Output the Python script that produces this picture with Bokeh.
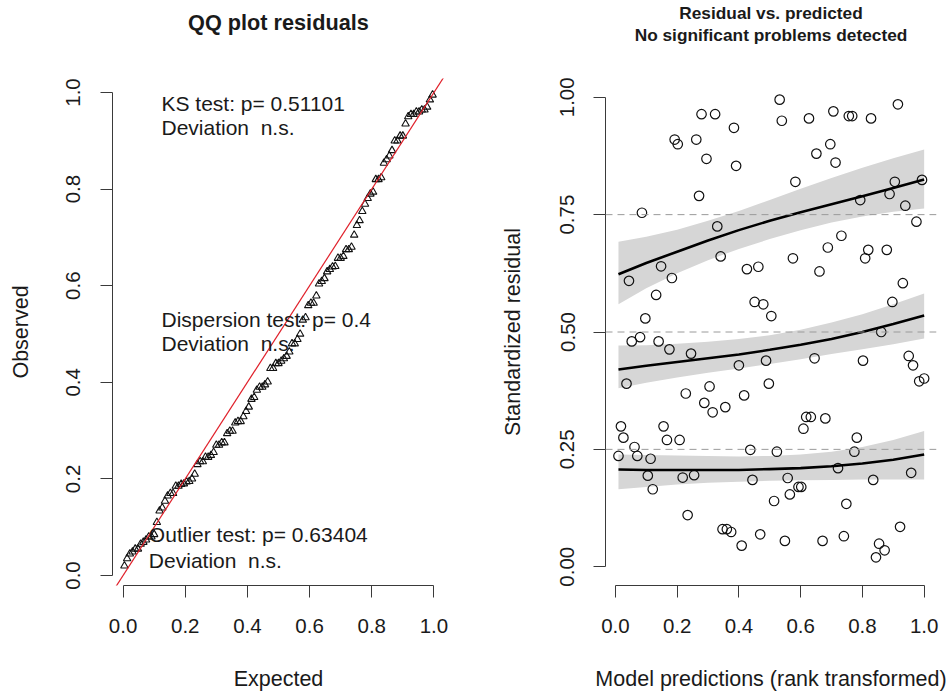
from bokeh.plotting import figure
from bokeh.layouts import row, column
from bokeh.models import FixedTicker, PrintfTickFormatter, Span
from bokeh.core.properties import value
from bokeh.embed import file_html
from bokeh.resources import INLINE

# Rank-transformed model predictions and scaled (simulated) residuals
pred_rank = [0.532, 0.279, 0.323, 0.539, 0.627, 0.706, 0.756, 0.767, 0.828, 0.915,
             0.384, 0.192, 0.202, 0.262, 0.696, 0.651, 0.295, 0.391, 0.713, 0.583,
             0.271, 0.905, 0.993, 0.888, 0.793, 0.939, 0.086, 0.975, 0.330, 0.732,
             0.688, 0.819, 0.879, 0.341, 0.575, 0.809, 0.148, 0.044, 0.183, 0.426,
             0.463, 0.661, 0.132, 0.931, 0.451, 0.479, 0.505, 0.897, 0.097, 0.053,
             0.080, 0.140, 0.175, 0.245, 0.861, 0.400, 0.488, 0.645, 0.802, 0.950,
             0.964, 0.984, 1.000, 0.036, 0.228, 0.305, 0.497, 0.417, 0.288, 0.315,
             0.356, 0.618, 0.633, 0.680, 0.609, 0.018, 0.026, 0.156, 0.167, 0.208,
             0.062, 0.071, 0.010, 0.114, 0.105, 0.121, 0.218, 0.255, 0.437, 0.523,
             0.782, 0.774, 0.721, 0.444, 0.558, 0.593, 0.602, 0.565, 0.514, 0.835,
             0.958, 0.748, 0.234, 0.347, 0.361, 0.375, 0.469, 0.409, 0.549, 0.671,
             0.740, 0.922, 0.854, 0.872, 0.844]
resid = [0.995, 0.964, 0.964, 0.950, 0.955, 0.970, 0.960, 0.960, 0.955, 0.985,
         0.935, 0.910, 0.900, 0.910, 0.900, 0.880, 0.869, 0.854, 0.861, 0.820,
         0.790, 0.820, 0.824, 0.794, 0.781, 0.769, 0.754, 0.735, 0.725, 0.705,
         0.680, 0.675, 0.675, 0.661, 0.657, 0.657, 0.640, 0.609, 0.615, 0.634,
         0.639, 0.629, 0.579, 0.604, 0.564, 0.559, 0.534, 0.564, 0.529, 0.480,
         0.489, 0.480, 0.463, 0.454, 0.500, 0.429, 0.439, 0.444, 0.439, 0.449,
         0.429, 0.395, 0.401, 0.390, 0.369, 0.384, 0.390, 0.365, 0.349, 0.329,
         0.340, 0.319, 0.319, 0.316, 0.294, 0.299, 0.275, 0.299, 0.270, 0.270,
         0.255, 0.236, 0.236, 0.230, 0.194, 0.165, 0.190, 0.195, 0.249, 0.245,
         0.275, 0.245, 0.210, 0.185, 0.189, 0.170, 0.170, 0.154, 0.140, 0.185,
         0.200, 0.134, 0.110, 0.080, 0.080, 0.074, 0.069, 0.045, 0.055, 0.055,
         0.065, 0.085, 0.049, 0.035, 0.020]

# Quantile regression fits (0.25, 0.5, 0.75) with confidence bands
q_x = [0.01, 0.1, 0.2, 0.3, 0.4, 0.5, 0.6, 0.7, 0.8, 0.9, 1.0]
q75_fit = [0.623, 0.647, 0.671, 0.695, 0.717, 0.737, 0.755, 0.772, 0.789, 0.807, 0.825]
q75_hi = [0.692, 0.703, 0.718, 0.737, 0.758, 0.781, 0.805, 0.828, 0.850, 0.870, 0.889]
q75_lo = [0.559, 0.593, 0.625, 0.653, 0.677, 0.698, 0.717, 0.733, 0.746, 0.756, 0.763]
q50_fit = [0.420, 0.428, 0.436, 0.444, 0.452, 0.462, 0.473, 0.485, 0.500, 0.517, 0.535]
q50_hi = [0.471, 0.472, 0.475, 0.479, 0.485, 0.493, 0.505, 0.520, 0.538, 0.559, 0.582]
q50_lo = [0.380, 0.392, 0.403, 0.413, 0.422, 0.432, 0.442, 0.453, 0.463, 0.474, 0.486]
q25_fit = [0.207, 0.206, 0.206, 0.206, 0.206, 0.208, 0.210, 0.214, 0.220, 0.228, 0.239]
q25_hi = [0.239, 0.238, 0.237, 0.236, 0.235, 0.236, 0.239, 0.245, 0.255, 0.270, 0.289]
q25_lo = [0.165, 0.170, 0.175, 0.179, 0.181, 0.183, 0.184, 0.185, 0.186, 0.186, 0.186]
quantiles = [0.25, 0.5, 0.75]

# Test results printed inside the QQ panel
test_lines = ["KS test: p= 0.51101", "Deviation\u00a0 n.s.",
              "Dispersion test: p= 0.4", "Deviation\u00a0 n.s.",
              "Outlier test: p= 0.63404", "Deviation\u00a0 n.s."]
test_x = [0.1235, 0.1235, 0.1235, 0.1235, 0.083, 0.083]
test_y = [0.978, 0.928, 0.531, 0.480, 0.085, 0.032]

tick_01 = [0.0, 0.2, 0.4, 0.6, 0.8, 1.0]
tick_025 = [0.0, 0.25, 0.5, 0.75, 1.0]

FONT = "Liberation Sans"
TXT = "#1a1a1a"
AX = "#3a3a3a"
HEAD_H = 60

# QQ plot: sorted residuals against uniform quantiles
observed = sorted(resid)
n = len(observed)
expected = [(i + 0.5) / n for i in range(n)]


def style_axis(ax, ticks, fmt, label, label_standoff, tick_standoff):
    ax.bounds = (0, 1)
    ax.ticker = FixedTicker(ticks=ticks)
    ax.formatter = PrintfTickFormatter(format=fmt)
    ax.axis_line_color = AX
    ax.axis_line_width = 1
    ax.major_tick_line_color = AX
    ax.major_tick_out = 12
    ax.major_tick_in = 0
    ax.minor_tick_out = 0
    ax.minor_tick_in = 0
    ax.major_label_text_font = FONT
    ax.major_label_text_font_size = "20.5px"
    ax.major_label_text_color = TXT
    ax.major_label_standoff = tick_standoff
    ax.axis_label = label
    ax.axis_label_text_font = FONT
    ax.axis_label_text_font_size = "21.5px"
    ax.axis_label_text_font_style = "normal"
    ax.axis_label_text_color = TXT
    ax.axis_label_standoff = label_standoff


# Heading strip across both panels (pixel coordinates, y measured from the top)
head = figure(width=952, height=HEAD_H, x_range=(0, 952), y_range=(HEAD_H, 0),
              x_axis_type=None, y_axis_type=None, output_backend="svg",
              toolbar_location=None, title=None, min_border=0)
head.outline_line_color = None
head.grid.visible = False
head.text([277.9], [22.2], text=["QQ plot residuals"], text_font=value(FONT),
          text_font_size="21.7px", text_font_style="bold", text_color=TXT,
          text_align="center", text_baseline="alphabetic")
head.text([770.5, 770.5], [12.4, 34.1],
          text=["Residual vs. predicted", "No significant problems detected"],
          text_font=value(FONT), text_font_size="17.3px", text_font_style="bold",
          text_color=TXT, text_align="center", text_baseline="alphabetic")

p1 = figure(width=476, height=695 - HEAD_H, x_range=(-0.034, 1.034), y_range=(-0.0207, 1.029),
            output_backend="svg", toolbar_location=None, title=None,
            min_border_left=112, min_border_right=32, min_border_top=78 - HEAD_H,
            min_border_bottom=109)
p1.outline_line_color = None
p1.xgrid.grid_line_color = None
p1.ygrid.grid_line_color = None
style_axis(p1.xaxis[0], tick_01, "%.1f", "Expected", 31, 21)
style_axis(p1.yaxis[0], tick_01, "%.1f", "Observed", 31, 20)
p1.yaxis[0].major_label_orientation = "vertical"

p1.scatter(expected, observed, marker="triangle", size=7.5, fill_color=None,
           line_color="#111111", line_width=1.1)
p1.line([-0.1, 1.1], [-0.1, 1.1], line_color="#e0202a", line_width=1.2)
p1.text(test_x, test_y, text=test_lines, text_font=value(FONT), text_font_size="21px",
        text_color=TXT, text_align="left", text_baseline="alphabetic")

p2 = figure(width=476, height=695 - HEAD_H, x_range=(-0.032, 1.04), y_range=(-0.04, 1.04),
            output_backend="svg", toolbar_location=None, title=None,
            min_border_left=129, min_border_right=16, min_border_top=76 - HEAD_H,
            min_border_bottom=110)
p2.outline_line_color = None
p2.xgrid.grid_line_color = None
p2.ygrid.grid_line_color = None
style_axis(p2.xaxis[0], tick_01, "%.1f", "Model predictions (rank transformed)", 31, 21)
style_axis(p2.yaxis[0], tick_025, "%.2f", "Standardized residual", 33, 19)
p2.yaxis[0].major_label_orientation = "vertical"

for q in quantiles:
    p2.add_layout(Span(location=q, dimension="width", line_color="#9a9a9a",
                       line_dash="7 5", line_width=1))

for lo, hi in [(q25_lo, q25_hi), (q50_lo, q50_hi), (q75_lo, q75_hi)]:
    p2.varea(x=q_x, y1=lo, y2=hi, fill_color="#d6d6d6", fill_alpha=1.0)

p2.scatter(pred_rank, resid, marker="circle", size=9.5, fill_color=None,
           line_color="#111111", line_width=1.2)

for fit in [q25_fit, q50_fit, q75_fit]:
    p2.line(q_x, fit, line_color="#000000", line_width=2.6)

layout = column(head, row(p1, p2))
open("out.html", "w").write(file_html(layout, INLINE))
